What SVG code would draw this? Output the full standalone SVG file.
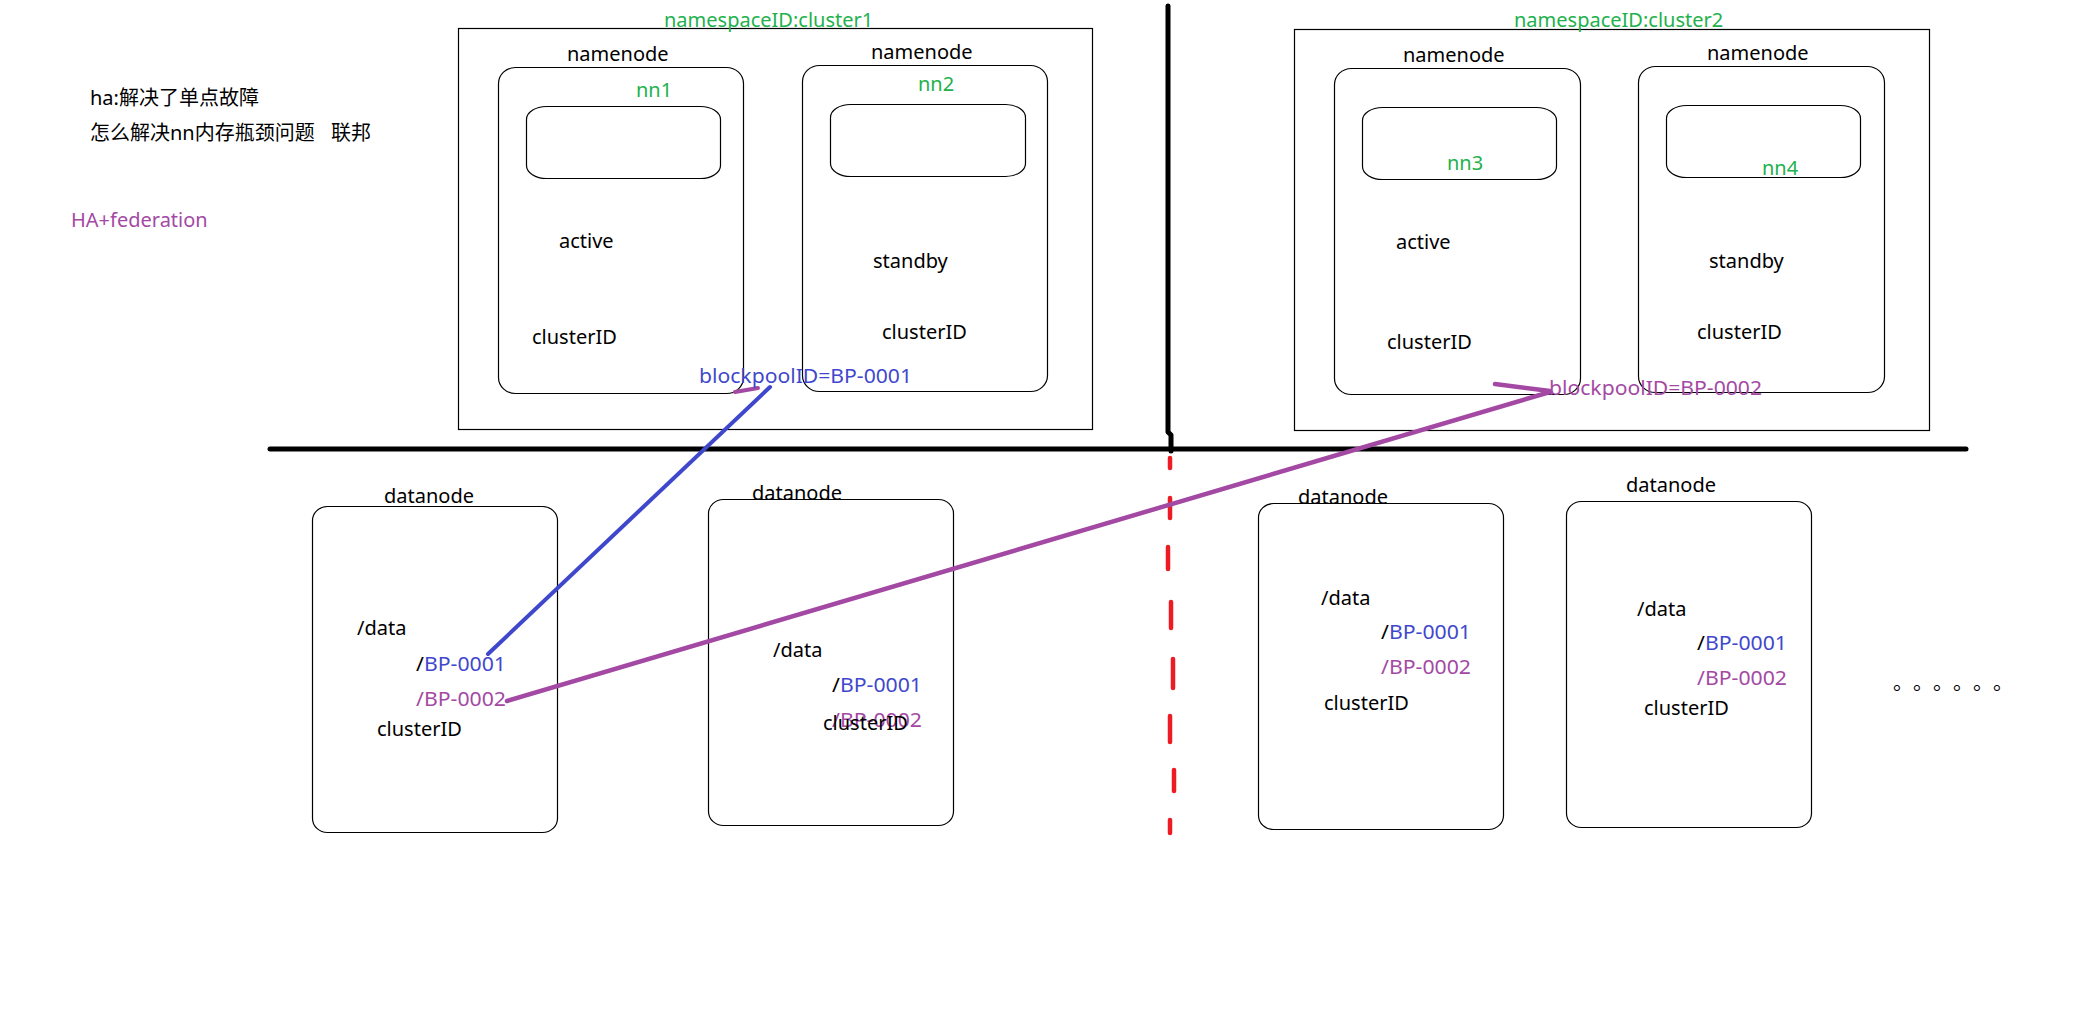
<svg xmlns="http://www.w3.org/2000/svg" width="2093" height="1021" viewBox="0 0 2093 1021">
<style>
text{font-family:"Noto Sans","Noto Sans CJK SC",sans-serif;font-size:20px;fill:#000}
.g{fill:#22B14C}
.b{fill:#3F48CC}
.p{fill:#A349A4}
.box{fill:none;stroke:#000;stroke-width:1.2}
.nn{fill:none;stroke:#000;stroke-width:1.2}
.ln{fill:none;stroke-linecap:round;stroke-linejoin:round}
</style>
<rect width="2093" height="1021" fill="#fff"/>
<g id="notes">
<text x="90" y="105">ha:解决了单点故障</text>
<text x="90" y="140">怎么解决nn内存瓶颈问题<tspan x="331">联邦</tspan></text>
<text x="71" y="227" class="p">HA+federation</text>
</g>
<g id="cluster1">
<rect class="box" x="458.5" y="28.5" width="634" height="401"/>
<text x="664" y="27" class="g">namespaceID:cluster1</text>
</g>
<g id="nn1">
<rect class="nn" x="498.5" y="67.5" width="245" height="326" rx="17" ry="16"/>
<rect class="nn" x="526.5" y="106.5" width="194" height="72" rx="20" ry="13"/>
<text x="567" y="61">namenode</text>
<text x="636" y="97" class="g">nn1</text>
<text x="559" y="248">active</text>
<text x="532" y="344">clusterID</text>
</g>
<g id="nn2">
<rect class="nn" x="802.5" y="65.5" width="245" height="326" rx="17" ry="16"/>
<rect class="nn" x="830.5" y="104.5" width="195" height="72" rx="20" ry="13"/>
<text x="871" y="59">namenode</text>
<text x="918" y="91" class="g">nn2</text>
<text x="873" y="268">standby</text>
<text x="882" y="339">clusterID</text>
</g>
<g id="cluster2">
<rect class="box" x="1294.5" y="29.5" width="635" height="401"/>
<text x="1514" y="27" class="g">namespaceID:cluster2</text>
</g>
<g id="nn3">
<rect class="nn" x="1334.5" y="68.5" width="246" height="326" rx="17" ry="16"/>
<rect class="nn" x="1362.5" y="107.5" width="194" height="72" rx="20" ry="13"/>
<text x="1403" y="62">namenode</text>
<text x="1447" y="170" class="g">nn3</text>
<text x="1396" y="249">active</text>
<text x="1387" y="349">clusterID</text>
</g>
<g id="nn4">
<rect class="nn" x="1638.5" y="66.5" width="246" height="326" rx="17" ry="16"/>
<rect class="nn" x="1666.5" y="105.5" width="194" height="72" rx="20" ry="13"/>
<text x="1707" y="60">namenode</text>
<text x="1762" y="175" class="g">nn4</text>
<text x="1709" y="268">standby</text>
<text x="1697" y="339">clusterID</text>
</g>
<g id="dn1">
<rect class="nn" x="312.5" y="506.5" width="245" height="326" rx="15" ry="14"/>
<text x="384" y="503">datanode</text>
<text x="357" y="635">/data</text>
<text x="416" y="671" textLength="90" lengthAdjust="spacingAndGlyphs">/<tspan class="b">BP-0001</tspan></text>
<text x="416" y="706" class="p" textLength="90" lengthAdjust="spacingAndGlyphs">/BP-0002</text>
<text x="377" y="736">clusterID</text>
</g>
<g id="dn2">
<rect class="nn" x="708.5" y="499.5" width="245" height="326" rx="15" ry="14"/>
<text x="752" y="500">datanode</text>
<text x="773" y="657">/data</text>
<text x="832" y="692" textLength="90" lengthAdjust="spacingAndGlyphs">/<tspan class="b">BP-0001</tspan></text>
<text x="832" y="727" class="p" textLength="90" lengthAdjust="spacingAndGlyphs">/BP-0002</text>
<text x="823" y="730">clusterID</text>
</g>
<g id="dn3">
<rect class="nn" x="1258.5" y="503.5" width="245" height="326" rx="15" ry="14"/>
<text x="1298" y="504">datanode</text>
<text x="1321" y="605">/data</text>
<text x="1381" y="639" textLength="90" lengthAdjust="spacingAndGlyphs">/<tspan class="b">BP-0001</tspan></text>
<text x="1381" y="674" class="p" textLength="90" lengthAdjust="spacingAndGlyphs">/BP-0002</text>
<text x="1324" y="710">clusterID</text>
</g>
<g id="dn4">
<rect class="nn" x="1566.5" y="501.5" width="245" height="326" rx="15" ry="14"/>
<text x="1626" y="492">datanode</text>
<text x="1637" y="616">/data</text>
<text x="1697" y="650" textLength="90" lengthAdjust="spacingAndGlyphs">/<tspan class="b">BP-0001</tspan></text>
<text x="1697" y="685" class="p" textLength="90" lengthAdjust="spacingAndGlyphs">/BP-0002</text>
<text x="1644" y="715">clusterID</text>
</g>
<g id="more">
<text x="1893 1913 1933 1953 1973 1993" y="690">。。。。。。</text>
</g>
<g id="connectors">
<polyline class="ln" points="1168,6 1168,432 1171,435 1171,451" stroke="#000" stroke-width="5"/>
<line class="ln" x1="270" y1="449" x2="1966" y2="449" stroke="#000" stroke-width="5"/>
<g stroke="#ED1C24" stroke-width="4.5" class="ln">
<line x1="1170" y1="458" x2="1170" y2="468"/>
<line x1="1170" y1="498" x2="1170" y2="518"/>
<line x1="1168" y1="547" x2="1168" y2="569"/>
<line x1="1171" y1="602" x2="1171" y2="628"/>
<line x1="1173" y1="659" x2="1173" y2="688"/>
<line x1="1170" y1="716" x2="1170" y2="742"/>
<line x1="1174" y1="770" x2="1174" y2="791"/>
<line x1="1170" y1="820" x2="1170" y2="833"/>
</g>
<line class="ln" x1="488" y1="654" x2="770" y2="387" stroke="#3F48CC" stroke-width="4"/>
<line class="ln" x1="735" y1="392" x2="758" y2="388" stroke="#A349A4" stroke-width="4"/>
<line class="ln" x1="507" y1="701" x2="1550" y2="392" stroke="#A349A4" stroke-width="4.5"/>
<line class="ln" x1="1495" y1="384" x2="1550" y2="391" stroke="#A349A4" stroke-width="4.5"/>
</g>
<g id="labels">
<text x="699" y="383" class="b" textLength="213" lengthAdjust="spacingAndGlyphs">blockpoolID=BP-0001</text>
<text x="1549" y="395" class="p" textLength="213" lengthAdjust="spacingAndGlyphs">blockpoolID=BP-0002</text>
</g>
</svg>
